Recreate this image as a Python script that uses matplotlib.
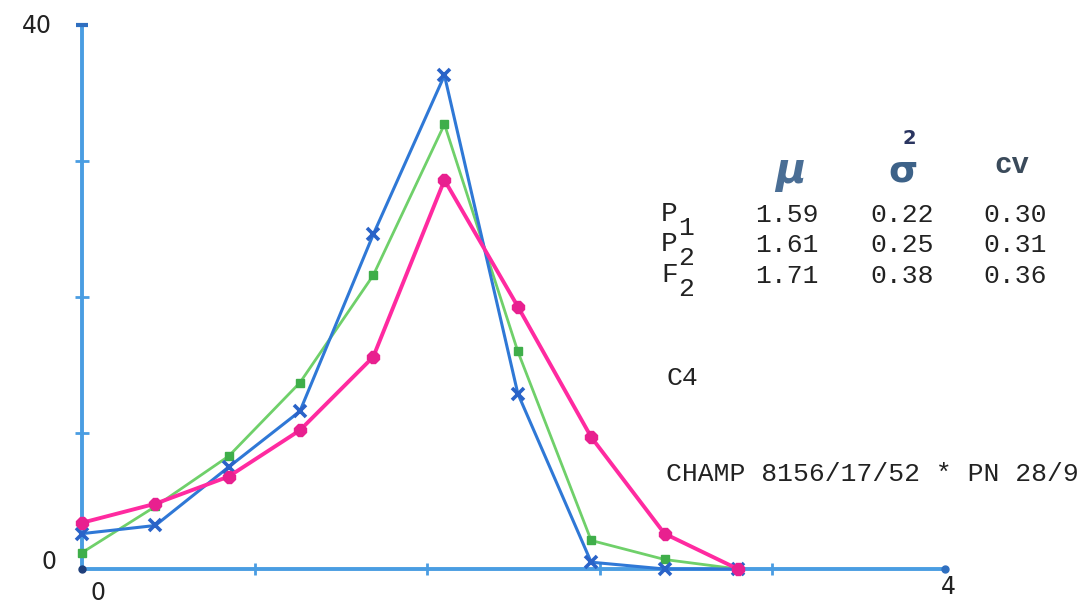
"""
Plotter chart of class frequencies (C4, CHAMP 8156/17/52)
with the table of mean, variance and cv for P1, P2 and F2.
"""

import matplotlib.pyplot as plt

# ============================================================
# Data
# ============================================================

x_classes = [0, 0.34, 0.68, 1.01, 1.35, 1.68, 2.02, 2.36, 2.70, 3.04]

p1_values = [2.6, 3.2, 7.5, 11.6, 24.6, 36.3, 12.9, 0.5, 0.0, 0.0]
p2_values = [1.2, 4.6, 8.3, 13.7, 21.6, 32.7, 16.0, 2.1, 0.7, 0.0]
f2_values = [3.4, 4.8, 6.8, 10.2, 15.6, 28.6, 19.3, 9.7, 2.6, 0.0]

row_labels = ["P", "P", "F"]
row_subs = ["1", "2", "2"]
mean_col = ["1.59", "1.61", "1.71"]
var_col = ["0.22", "0.25", "0.38"]
cv_col = ["0.30", "0.31", "0.36"]

y_tick_labels = ["0", "40"]
x_tick_labels = ["0", "4"]

# ============================================================
# Layout (pixel grid of the 1085 x 603 image)
# ============================================================

W, H = 1085, 603
X0_PX, X_UNIT = 82, 215.75      # x = 0 and pixels per unit
Y0_PX, Y_UNIT = 569, 13.6       # y = 0 and pixels per unit

AXIS_BLUE = "#4a9de2"
BLUE = "#2f78d6"
GREEN = "#6fd06a"
PINK = "#ff2aa0"
TYPE = "#222222"

MONO = ["Liberation Mono", "DejaVu Sans Mono"]


def px(x, y):
    """Pixel position -> figure fraction."""
    return x / W, 1 - y / H


fig = plt.figure(figsize=(W / 100, H / 100), dpi=100)
ax = fig.add_axes([0, 0, 1, 1])
ax.set_xlim(-X0_PX / X_UNIT, (W - X0_PX) / X_UNIT)
ax.set_ylim(-(H - Y0_PX) / Y_UNIT, Y0_PX / Y_UNIT)
ax.axis("off")

# ============================================================
# Axes drawn like the plotter
# ============================================================

ax.plot([0, 4], [0, 0], color=AXIS_BLUE, lw=2.8, solid_capstyle="round", zorder=1)
ax.plot([0, 0], [0, 40], color=AXIS_BLUE, lw=2.8, solid_capstyle="round", zorder=1)
ax.plot([4], [0], "o", color="#2f6fc0", ms=5, zorder=2)
ax.plot([0], [40], "_", color="#2f6fc0", ms=8, mew=3, zorder=2)
ax.plot([0], [0], "o", color="#1f3f7a", ms=5, zorder=6)

ax.plot([0.8, 1.6, 2.4, 3.2], [0, 0, 0, 0], ls="", marker="|",
        color=AXIS_BLUE, ms=8, mew=2)
ax.plot([0, 0, 0], [10, 20, 30], ls="", marker="_",
        color=AXIS_BLUE, ms=10, mew=2)

# ============================================================
# Series
# ============================================================

ax.plot(x_classes, p2_values, color=GREEN, lw=2.0, marker="s", ms=6,
        mfc="#3fae4a", mec="#3fae4a", zorder=3)
ax.plot(x_classes, p1_values, color=BLUE, lw=2.2, marker="x", ms=9,
        mew=2.6, mec="#2a63c8", zorder=4)
ax.plot(x_classes, f2_values, color=PINK, lw=2.8, marker="8", ms=9,
        mfc="#e8208f", mec="#e8208f", zorder=5)

# ============================================================
# Axis labels
# ============================================================

fig.text(*px(37, 26), y_tick_labels[1], fontsize=17, color=TYPE,
         ha="center", va="center")
fig.text(*px(49, 562), y_tick_labels[0], fontsize=17, color=TYPE,
         ha="center", va="center")
fig.text(*px(98, 593), x_tick_labels[0], fontsize=17, color=TYPE,
         ha="center", va="center")
fig.text(*px(948, 587), x_tick_labels[1], fontsize=17, color=TYPE,
         ha="center", va="center")

# ============================================================
# Table
# ============================================================

fig.text(*px(790, 171), "μ", fontsize=30, color="#4a6e95",
         fontweight="bold", style="italic", ha="center", va="center")
fig.text(*px(903, 172), "σ", fontsize=27, color="#3d6288",
         fontweight="bold", ha="center", va="center")
fig.text(*px(909, 139), "2", fontsize=14, color="#2a3560",
         fontweight="bold", ha="center", va="center")
fig.text(*px(1012, 165), "cv", fontsize=21, color="#3a4a5a",
         fontweight="bold", ha="center", va="center", family=MONO)

row_y = [214, 244, 275]
for i, y in enumerate(row_y):
    fig.text(*px(661, y), row_labels[i], fontsize=20, color=TYPE,
             ha="left", va="center", family=MONO)
    fig.text(*px(678, y + 14), row_subs[i], fontsize=19, color=TYPE,
             ha="left", va="center", family=MONO)
    fig.text(*px(755, y + 1), mean_col[i], fontsize=19, color=TYPE,
             ha="left", va="center", family=MONO)
    fig.text(*px(870, y + 1), var_col[i], fontsize=19, color=TYPE,
             ha="left", va="center", family=MONO)
    fig.text(*px(983, y + 1), cv_col[i], fontsize=19, color=TYPE,
             ha="left", va="center", family=MONO)

fig.text(*px(666, 378), "C4", fontsize=19, color=TYPE,
         ha="left", va="center", family=MONO)
fig.text(*px(666, 474), "CHAMP 8156/17/52 * PN 28/9", fontsize=19,
         color=TYPE, ha="left", va="center", family=MONO)

fig.savefig("out.png", dpi=100)
